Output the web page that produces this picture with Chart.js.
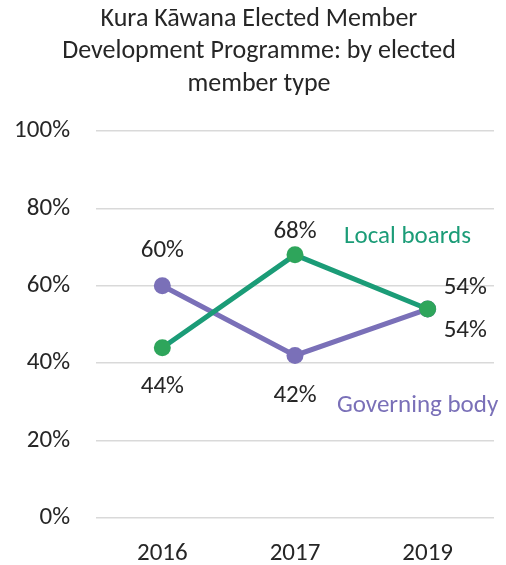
<!DOCTYPE html>
<html>
<head>
<meta charset="utf-8">
<script src="https://cdn.jsdelivr.net/npm/chart.js@4"></script>
<style>
  html, body { margin: 0; padding: 0; background: #fff; }
  #wrap { width: 506px; height: 565px; }
</style>
</head>
<body>
<div id="wrap"><canvas id="memberChart" width="506" height="565"></canvas></div>
<script>
const years = ['2016', '2017', '2019'];
const localBoards = [44, 68, 54];
const governingBody = [60, 42, 54];
const yTicks = [0, 20, 40, 60, 80, 100];
const titleLines = ['Kura Kāwana Elected Member', 'Development Programme: by elected', 'member type'];

const FONT = "'Calibri Light', Calibri, Lato, 'Open Sans', sans-serif";
const GREEN = '#1b9c77';
const GREEN_DOT = '#2ea55b';
const PURPLE = '#7a70b8';
const TEXT = '#262626';

// label placement relative to each point: [dx, dy, align]
const localLabelOffset = [[0, 39, 'center'], [0, -23, 'center'], [16, -21, 'left']];
const governingLabelOffset = [[0, -35, 'center'], [0, 40, 'center'], [16, 22, 'left']];

const labelPlugin = {
  id: 'pointLabels',
  afterDatasetsDraw(chart) {
    const c = chart.ctx;
    const x = chart.scales.x, y = chart.scales.y;
    c.save();
    c.textBaseline = 'middle';

    // title, centred a little right of the canvas middle like the original
    c.font = '300 26px ' + FONT;
    c.fillStyle = TEXT;
    c.textAlign = 'center';
    titleLines.forEach((t, i) => c.fillText(t, 259, 19 + i * 32.5));

    c.font = '300 25px ' + FONT;
    const put = (vals, offs) => {
      vals.forEach((v, i) => {
        const [dx, dy, align] = offs[i];
        c.textAlign = align;
        c.fillText(v + '%', x.getPixelForValue(i) + dx, y.getPixelForValue(v) + dy);
      });
    };
    put(localBoards, localLabelOffset);
    put(governingBody, governingLabelOffset);

    // series names
    c.textAlign = 'left';
    c.fillStyle = GREEN;
    c.fillText('Local boards', x.getPixelForValue(1) + 49, y.getPixelForValue(72.6));
    c.fillStyle = PURPLE;
    c.fillText('Governing body', x.getPixelForValue(1) + 42, y.getPixelForValue(28.9));
    c.restore();
  }
};

new Chart(document.getElementById('memberChart').getContext('2d'), {
  type: 'line',
  data: {
    labels: years,
    datasets: [{
      label: 'Local boards',
      data: localBoards,
      borderColor: GREEN,
      backgroundColor: GREEN_DOT,
      pointBackgroundColor: GREEN_DOT,
      pointBorderColor: GREEN_DOT,
      borderWidth: 5,
      pointRadius: 8.5,
      pointBorderWidth: 0,
      order: 0
    }, {
      label: 'Governing body',
      data: governingBody,
      borderColor: PURPLE,
      backgroundColor: PURPLE,
      pointBackgroundColor: PURPLE,
      pointBorderColor: PURPLE,
      borderWidth: 5,
      pointRadius: 8.5,
      pointBorderWidth: 0,
      order: 1
    }]
  },
  options: {
    responsive: false,
    animation: false,
    layout: { padding: { top: 131, right: 12, bottom: 0, left: 0 } },
    plugins: {
      legend: { display: false },
      tooltip: { enabled: false },
      title: { display: false }
    },
    scales: {
      x: {
        offset: true,
        grid: { display: false, drawTicks: false },
        border: { display: false },
        ticks: { color: TEXT, font: { family: FONT, size: 25, weight: '300' }, padding: 21 },
        afterFit(s) { s.height = 47; }
      },
      y: {
        min: 0,
        max: 100,
        afterBuildTicks(s) { s.ticks = yTicks.map(v => ({ value: v })); },
        grid: { color: '#d9d9d9', lineWidth: 1.5, drawTicks: false },
        border: { display: false },
        ticks: {
          color: TEXT,
          font: { family: FONT, size: 25, weight: '300' },
          padding: 26,
          callback: v => v + '%'
        },
        afterFit(s) { s.width = 96; }
      }
    }
  },
  plugins: [labelPlugin]
});
</script>
</body>
</html>
